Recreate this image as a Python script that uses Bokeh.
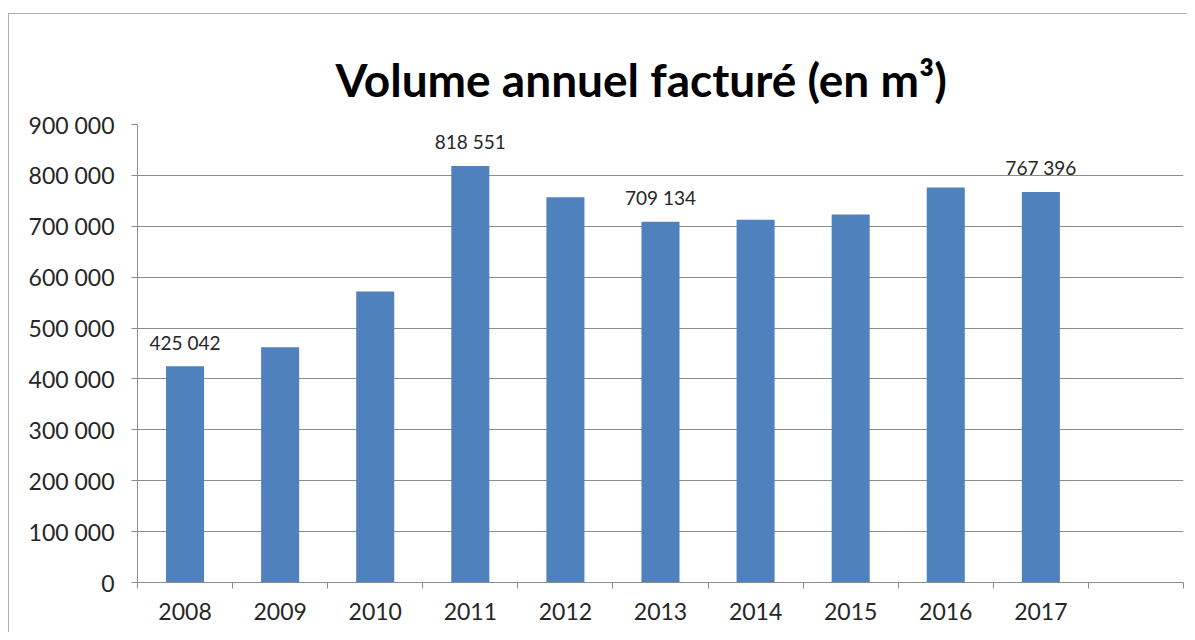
from bokeh.plotting import figure
from bokeh.models import ColumnDataSource, FixedTicker, Range1d, LabelSet
from bokeh.core.properties import value
from bokeh.embed import file_html
from bokeh.resources import INLINE

# ---- data ----
years = ["2008", "2009", "2010", "2011", "2012", "2013", "2014", "2015", "2016", "2017"]
volumes = [425042, 462500, 572000, 818551, 757000, 709134, 713000, 723000, 776000, 767396]
labeled_years = ["2008", "2011", "2013", "2017"]
y_ticks = [0, 100000, 200000, 300000, 400000, 500000, 600000, 700000, 800000, 900000]
title_text = "Volume annuel facturé (en m³)"

def fmt(v):
    return f"{int(v):,}".replace(",", " ")

FONT = "Lato"
BAR = "#4F81BD"
GRID = "#8c8c8c"
TXT = "#262626"

n = len(years)
xs = list(range(n))
src = ColumnDataSource(dict(x=xs, v=volumes))

lab_idx = [years.index(y) for y in labeled_years]
lab_src = ColumnDataSource(dict(
    x=[xs[i] for i in lab_idx],
    v=[volumes[i] for i in lab_idx],
    t=[fmt(volumes[i]) for i in lab_idx],
))

p = figure(width=1179, height=619, output_backend="svg", toolbar_location=None,
           x_range=Range1d(-0.5, n + 0.5), y_range=Range1d(y_ticks[0], y_ticks[-1]),
           min_border_left=128, min_border_right=5, min_border_top=110, min_border_bottom=51)
p.margin = (13, 0, 0, 8)
p.styles = {"border-top": "1px solid #b0b0b0", "border-left": "1px solid #b0b0b0"}
p.background_fill_color = "white"
p.border_fill_color = "white"
p.outline_line_color = None

p.vbar(x="x", top="v", width=0.4, source=src, fill_color=BAR, line_color=None)

p.add_layout(LabelSet(x="x", y="v", text="t", source=lab_src, y_offset=24,
                      text_align="center", text_baseline="middle",
                      text_font=value(FONT), text_font_size="19px", text_color=TXT))

# title
p.title.text = title_text
p.title.align = "left"
p.title.text_font = FONT
p.title.text_font_style = "bold"
p.title.text_font_size = "46px"
p.title.text_color = "black"
p.title.offset = 198
p.title.standoff = 36

# x axis
xa = p.xaxis[0]
xa.ticker = FixedTicker(ticks=xs, minor_ticks=[i - 0.5 for i in range(n + 2)])
xa.major_label_overrides = {i: y for i, y in zip(xs, years)}
xa.major_tick_out = 0
xa.major_tick_in = 0
xa.minor_tick_out = 6
xa.minor_tick_in = 0
xa.minor_tick_line_color = GRID
xa.axis_line_color = GRID
xa.major_label_text_font = FONT
xa.major_label_text_font_size = "23px"
xa.major_label_text_color = TXT
xa.major_label_standoff = 14

# y axis
ya = p.yaxis[0]
ya.ticker = FixedTicker(ticks=y_ticks)
ya.major_label_overrides = {t: fmt(t) for t in y_ticks}
ya.major_tick_out = 6
ya.major_tick_in = 0
ya.minor_tick_line_color = None
ya.major_tick_line_color = GRID
ya.axis_line_color = GRID
ya.major_label_text_font = FONT
ya.major_label_text_font_size = "23px"
ya.major_label_text_color = TXT
ya.major_label_standoff = 17

p.xgrid.grid_line_color = None
p.ygrid.grid_line_color = GRID
p.ygrid.grid_line_width = 1

open("out.html", "w").write(file_html(p, INLINE))
